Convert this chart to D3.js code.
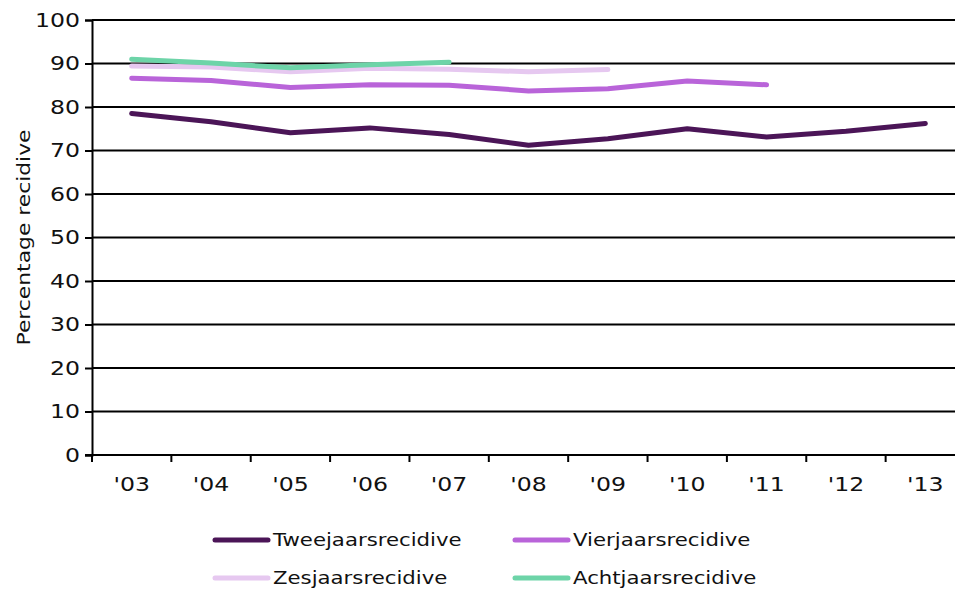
<!DOCTYPE html>
<html>
<head>
<meta charset="utf-8">
<script src="https://cdn.jsdelivr.net/npm/d3@7"></script>
<style>
  body { margin: 0; background: #fff; }
  text { font-family: "DejaVu Sans", Verdana, sans-serif; fill: #111; }
</style>
</head>
<body>
<div id="chart-area"></div>
<script>
const width = 955;
const height = 589;

// data
const years = ["'03", "'04", "'05", "'06", "'07", "'08", "'09", "'10", "'11", "'12", "'13"];
const twee = [78.5, 76.6, 74.1, 75.2, 73.7, 71.2, 72.7, 75.0, 73.1, 74.4, 76.2];
const vier = [86.6, 86.1, 84.5, 85.1, 85.0, 83.7, 84.2, 86.0, 85.1];
const zes = [89.4, 89.2, 88.1, 88.9, 88.7, 88.1, 88.6];
const acht = [91.0, 90.1, 89.0, 89.7, 90.3];
const seriesNames = ['Tweejaarsrecidive', 'Vierjaarsrecidive', 'Zesjaarsrecidive', 'Achtjaarsrecidive'];
const seriesValues = [twee, vier, zes, acht];
const colors = ['#4b1557', '#b964d9', '#e6c8f0', '#6dd4a8'];
const yTicks = [0, 10, 20, 30, 40, 50, 60, 70, 80, 90, 100];

const margin = { top: 20, right: -10, bottom: 134, left: 92 };
// text in the reference is a bit wider than the installed fonts
const stretch = 1.18;

const svg = d3
  .select('#chart-area')
  .append('svg')
  .attr('width', width)
  .attr('height', height);

const x = d3
  .scaleBand()
  .domain(years)
  .range([margin.left, width - margin.right]);

const y = d3
  .scaleLinear()
  .domain([0, 100])
  .range([height - margin.bottom, margin.top]);

// gridlines
svg
  .append('g')
  .selectAll('line')
  .data(yTicks.slice(1))
  .join('line')
  .attr('x1', margin.left)
  .attr('x2', width)
  .attr('y1', (d) => y(d))
  .attr('y2', (d) => y(d))
  .attr('stroke', '#000')
  .attr('stroke-width', 2);

// y axis
const yAxis = svg
  .append('g')
  .attr('transform', `translate(${margin.left},0)`)
  .call(d3.axisLeft(y).tickValues(yTicks).tickSize(7).tickPadding(5));
yAxis.select('.domain').attr('stroke-width', 2);
yAxis.selectAll('.tick line').attr('stroke-width', 2);
yAxis.selectAll('text').style('font-size', '20px').attr('font-family', null);

// x axis with ticks between categories
const xAxis = svg
  .append('g')
  .attr('transform', `translate(0,${y(0)})`);
xAxis
  .append('line')
  .attr('x1', margin.left - 7)
  .attr('x2', width)
  .attr('stroke', '#000')
  .attr('stroke-width', 2);
xAxis
  .selectAll('line.tick')
  .data(years)
  .join('line')
  .attr('class', 'tick')
  .attr('x1', (d) => x(d))
  .attr('x2', (d) => x(d))
  .attr('y1', 0)
  .attr('y2', 7)
  .attr('stroke', '#000')
  .attr('stroke-width', 2);
xAxis
  .selectAll('text')
  .data(years)
  .join('text')
  .attr('x', (d) => x(d) + x.bandwidth() / 2)
  .attr('y', 36)
  .attr('text-anchor', 'middle')
  .style('font-size', '20px')
  .text((d) => d);

// y label
svg
  .append('text')
  .attr('transform', `translate(30,${(y(0) + y(100)) / 2}) rotate(-90)`)
  .attr('text-anchor', 'middle')
  .style('font-size', '18.5px')
  .text('Percentage recidive');

// lines
const line = d3
  .line()
  .x((d, i) => x(years[i]) + x.bandwidth() / 2)
  .y((d) => y(d));

svg
  .append('g')
  .selectAll('path')
  .data(seriesValues)
  .join('path')
  .attr('d', line)
  .attr('fill', 'none')
  .attr('stroke', (d, i) => colors[i])
  .attr('stroke-width', 5)
  .attr('stroke-linecap', 'round')
  .attr('stroke-linejoin', 'round');

// legend
const legend = svg
  .append('g')
  .selectAll('g')
  .data(seriesNames)
  .join('g')
  .attr('transform', (d, i) => `translate(${215 + (i % 2) * 300},${540 + Math.floor(i / 2) * 38})`);
legend
  .append('line')
  .attr('x1', 0)
  .attr('x2', 53)
  .attr('stroke', (d, i) => colors[i])
  .attr('stroke-width', 5)
  .attr('stroke-linecap', 'round');
legend
  .append('text')
  .attr('x', 58)
  .attr('dy', '0.36em')
  .style('font-size', '18px')
  .text((d) => d);

// widen all text a little
svg.selectAll('text').each(function () {
  const w = this.getComputedTextLength();
  d3.select(this)
    .attr('textLength', w * stretch)
    .attr('lengthAdjust', 'spacingAndGlyphs');
});
</script>
</body>
</html>
